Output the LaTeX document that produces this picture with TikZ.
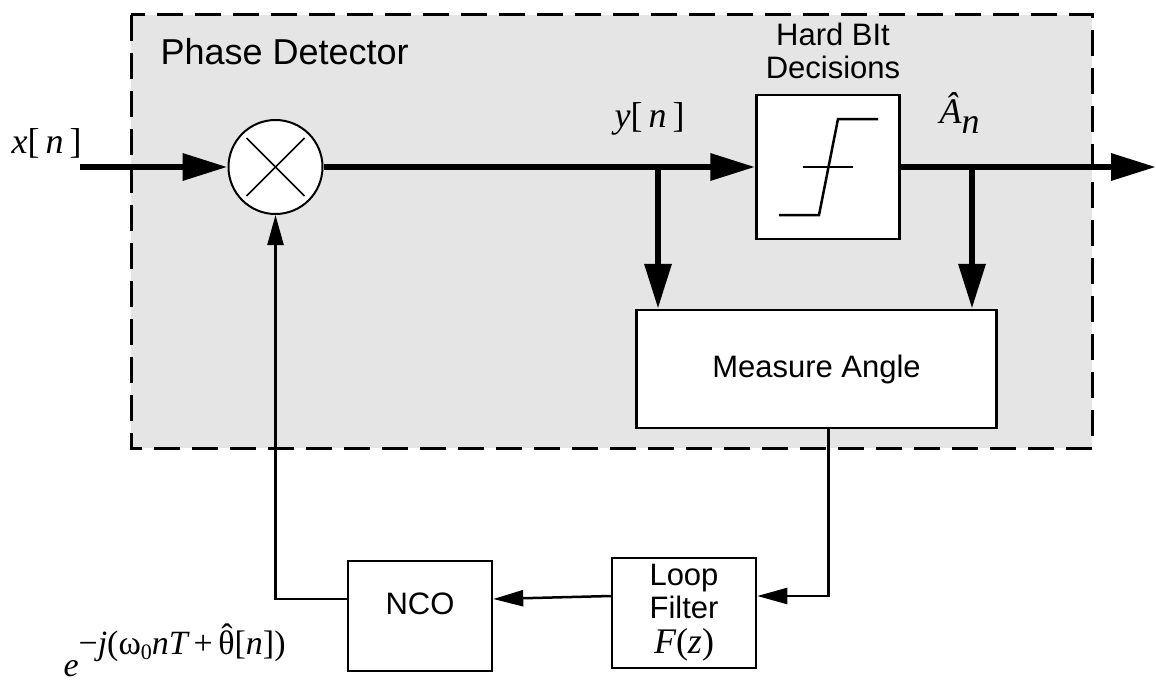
\documentclass[tikz,border=0pt]{standalone}
\usepackage{fontspec}
\setmainfont{Liberation Sans}
\newfontfamily\tms{Liberation Serif}
\newcommand{\tmi}[1]{{\tms\itshape #1}}
\newcommand{\tmr}[1]{{\tms #1}}
\usepackage{tikz}
\usetikzlibrary{arrows.meta,calc}
\definecolor{pdgray}{HTML}{E5E5E5}

\begin{document}
\begin{tikzpicture}[x=1pt,y=-1pt,
    every node/.style={font=\fontsize{31}{33}\selectfont},
    mlab/.style={anchor=base west,font=\fontsize{36}{40}\selectfont},
    blk/.style={draw,line width=2.5pt,fill=white,inner sep=0pt},
    sig/.style={line width=6.5pt,-{Triangle[length=45pt,width=26pt]}},
    fb/.style={line width=2.5pt,-{Triangle[length=30pt,width=16pt]}},
    pdbox/.style={draw,line width=3pt,dash pattern=on 26pt off 12pt,fill=pdgray}]
\useasboundingbox (0,0) rectangle (1156,685);
\draw[pdbox] (131,15) rectangle (1092,448);
\node[anchor=base west,font=\fontsize{36}{40}\selectfont] (pdlabel) at (157,65) {Phase Detector};

\node[blk,circle,line width=2pt,minimum size=94pt] (mixer) at (275.5,167) {};
\draw[line width=1.5pt] ([shift={(-29,-29)}]mixer.center) -- ([shift={(29,29)}]mixer.center);
\draw[line width=1.5pt] ([shift={(-29,29)}]mixer.center) -- ([shift={(29,-29)}]mixer.center);

\node[blk,minimum width=143pt,minimum height=144pt] (slicer) at (828,167) {};
\draw[line width=2.5pt] ([shift={(-49,48)}]slicer.center) -- ++(40,0) -- ++(19,-96) -- ++(40,0);
\draw[line width=2.5pt] ([shift={(-25,0)}]slicer.center) -- ++(50,0);
\node[align=center] (sliclabel) at (833,51) {Hard BIt\\Decisions};

\node[blk,minimum width=360pt,minimum height=118pt] (measure) at (816.5,369) {Measure Angle};
\node[blk,minimum width=144pt,minimum height=110pt,align=center] (loopf) at (684,613)
  {Loop\\Filter\\[2pt]{\fontsize{36}{40}\selectfont\tmi{F}\tmr{(}\tmi{z}\tmr{)}}};
\node[blk,minimum width=144pt,text height=53pt,text depth=57pt] (nco) at (420,616) {NCO};

\node[mlab] (xlab) at (8,153) {\tmi{x}\tmr{[\,}\tmi{n}\tmr{\,]}};
\node[mlab] (ylab) at (611,127) {\tmi{y}\tmr{[\,}\tmi{n}\tmr{\,]}};
\node[mlab] (alab) at (936,123) {\tmi{\^{A}}\raisebox{-10pt}{\tmi{n}}};
\node[mlab,font=\fontsize{34}{38}\selectfont] (elab) at (60,676)
  {\tmi{e}\raisebox{22pt}{\tmr{−}\tmi{j}\tmr{(ω\raisebox{-5pt}{\fontsize{22}{24}\selectfont 0}}\tmi{nT}\tmr{\,+\,\rlap{\kern3pt\raisebox{7pt}{ˆ}}θ[}\tmi{n}\tmr{])}}};

\coordinate (xin) at (80,167);
\coordinate (ytap) at (658,167);
\coordinate (atap) at (972,167);
\coordinate (out) at (1156,167);
\coordinate (mtap) at ([xshift=12pt]measure.south);

\draw[sig] (xin) -- (mixer.west);
\draw[sig] (mixer.east) -- (slicer.west);
\draw[sig] (slicer.east) -- (out);
\draw[sig] (ytap) -- (ytap |- measure.north);
\draw[sig] (atap) -- (atap |- measure.north);
\draw[fb] (mtap) |- ([yshift=17pt]loopf.east);
\draw[fb] ([yshift=17pt]loopf.west) -- ([yshift=17pt]nco.east);
\draw[fb] ([yshift=17pt]nco.west) -| (mixer.south);
\end{tikzpicture}
\end{document}
